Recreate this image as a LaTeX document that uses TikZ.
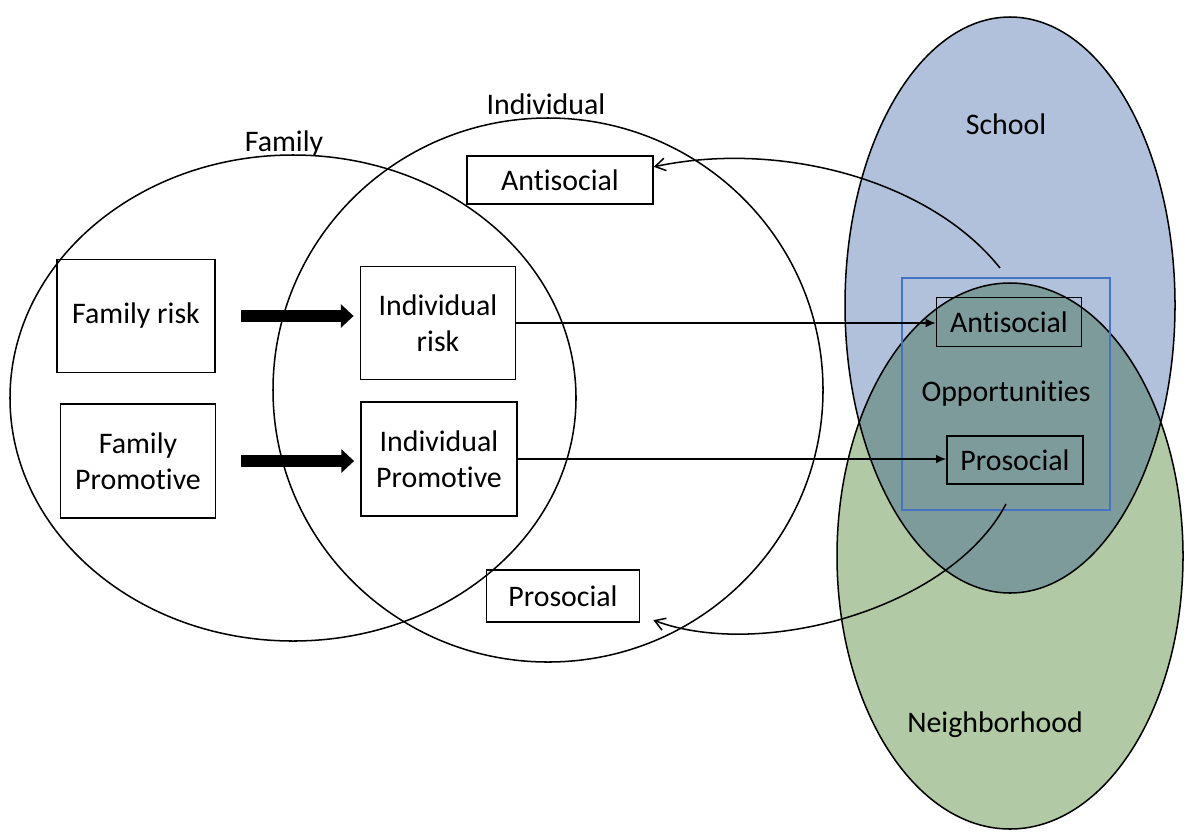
\documentclass[tikz,border=0pt]{standalone}
\usepackage{fontspec}
\setmainfont{Carlito}[Ligatures=NoCommon]
\usetikzlibrary{arrows.meta}
\definecolor{schoolblue}{RGB}{177,193,219}
\definecolor{hoodgreen}{RGB}{178,201,165}
\definecolor{overlapteal}{RGB}{126,155,156}
\definecolor{oppblue}{RGB}{68,114,196}
\begin{document}
\begin{tikzpicture}[x=0.01389cm,y=-0.01389cm,
  font=\fontsize{11.8}{14.2}\selectfont,
  box/.style={draw,line width=0.6pt,align=center,inner sep=0pt},
  ring/.style={draw,line width=0.6pt},
  bigarrow/.style={line width=4.7pt,-{Triangle[length=5pt,width=9pt]},shorten <=9.9pt,shorten >=2.4pt},
  thinarrow/.style={line width=0.6pt,-{Latex[length=4pt,width=3.5pt]}},
  backarrow/.style={line width=0.6pt,-{Straight Barb[length=4pt,width=5pt]}}]
\useasboundingbox (0,0) rectangle (1188,832);
% school and neighborhood
\fill[schoolblue] (1010,305) ellipse [x radius=165,y radius=288];
\fill[hoodgreen] (1010,556) ellipse [x radius=173,y radius=273];
\begin{scope}
\clip (1010,305) ellipse [x radius=165,y radius=288];
\fill[overlapteal] (1010,556) ellipse [x radius=173,y radius=273];
\end{scope}
\draw[ring] (1010,305) ellipse [x radius=165,y radius=288];
\draw[ring] (1010,556) ellipse [x radius=173,y radius=273];
% family and individual
\draw[ring] (293,398) ellipse [x radius=283,y radius=243];
\draw[ring] (548,390) ellipse [x radius=275,y radius=272];
\node (famlabel) at (284,144) {Family};
\node (indlabel) at (546,104) {Individual};
\node (schoollabel) at (1006,124) {School};
\node (hoodlabel) at (995,725) {Neighborhood};
% boxes
\node[box,minimum width=62.5pt,minimum height=44.7pt] (famrisk) at (136,316) {Family risk};
\node[box,minimum width=61.3pt,minimum height=45.1pt] (fampro) at (138,461) {Family\\Promotive};
\node[box,minimum width=61.3pt,minimum height=44.7pt] (indrisk) at (438,323) {Individual\\risk};
\node[box,minimum width=61.7pt,minimum height=45.1pt] (indpro) at (439,459) {Individual\\Promotive};
\node[box,minimum width=73.5pt,minimum height=19pt] (antiT) at (560,180) {Antisocial};
\node[box,minimum width=60.5pt,minimum height=20.6pt] (proT) at (563,596) {Prosocial};
\node[draw=oppblue,line width=0.6pt,minimum width=82.2pt,minimum height=91.7pt] (opp) at (1006,394) {Opportunities};
\node[box,minimum width=57.3pt,minimum height=19.4pt] (antiR) at (1009,322) {Antisocial};
\node[box,minimum width=53.8pt,minimum height=19pt] (proR) at (1015,460) {Prosocial};
\coordinate (schoolout) at (1000,268);
\coordinate (hoodout) at (1006,504);
% arrows
\draw[bigarrow] (famrisk.east) -- (famrisk.east -| indrisk.west);
\draw[bigarrow] (fampro.east) -- (fampro.east -| indpro.west);
\draw[thinarrow] (indrisk.east) -- (indrisk.east -| antiR.west);
\draw[thinarrow] (indpro.east) -- (indpro.east -| proR.west);
\draw[backarrow] (schoolout) .. controls (930,180) and (780,140) .. (antiT.8);
\draw[backarrow,shorten >=5.5pt] (hoodout) .. controls (950,610) and (760,660) .. (proT.-14);
\end{tikzpicture}
\end{document}
